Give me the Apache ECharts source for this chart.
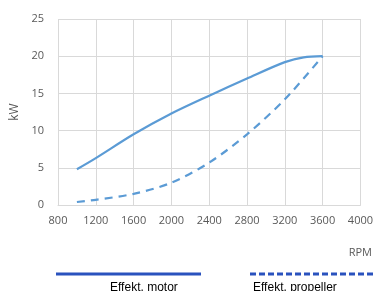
<!DOCTYPE html>
<html>
<head>
<meta charset="utf-8">
<script src="https://cdn.jsdelivr.net/npm/echarts@6/dist/echarts.min.js"></script>
<style>
  html, body { margin: 0; padding: 0; background: #fff; }
  #chart { width: 376px; height: 291px; }
</style>
</head>
<body>
<div id="chart"></div>
<script>
// RPM points
const rpmMotor = [1000, 1200, 1600, 2000, 2400, 2800, 3200, 3400, 3600];
const kwMotor = [4.8, 6.3, 9.5, 12.3, 14.7, 17.0, 19.2, 19.85, 20];
const rpmProp = [1000, 1200, 1600, 2000, 2400, 2800, 3200, 3600];
const kwProp = [0.4, 0.7, 1.5, 3.0, 5.7, 9.5, 14.2, 20];
const legendNames = ['Effekt. motor', 'Effekt. propeller'];

const lineColor = '#5b9bd5';
const gridColor = '#d9d9d9';
const labelColor = '#595959';
const font = 'Open Sans';

const chart = echarts.init(document.getElementById('chart'));

const option = {
  animation: false,
  grid: { left: 58, right: 15, top: 19, bottom: 86 },
  xAxis: {
    type: 'value',
    min: 800,
    max: 4000,
    interval: 400,
    axisLine: { show: true, lineStyle: { color: gridColor } },
    axisTick: { show: false },
    splitLine: { show: true, lineStyle: { color: gridColor } },
    axisLabel: { color: labelColor, fontFamily: font, fontSize: 11, margin: 10,
      formatter: v => String(v) }
  },
  yAxis: {
    type: 'value',
    min: 0,
    max: 25,
    interval: 5,
    name: 'kW',
    nameLocation: 'middle',
    nameGap: 36,
    nameTextStyle: { color: labelColor, fontFamily: font, fontSize: 12 },
    axisLine: { show: false },
    axisTick: { show: false },
    splitLine: { lineStyle: { color: gridColor } },
    axisLabel: { color: labelColor, fontFamily: font, fontSize: 11, margin: 14 }
  },
  series: [
    {
      name: legendNames[0],
      type: 'line',
      smooth: 0.3,
      showSymbol: false,
      data: rpmMotor.map((r, i) => [r, kwMotor[i]]),
      lineStyle: { color: lineColor, width: 2.2 }
    },
    {
      name: legendNames[1],
      type: 'line',
      smooth: 0.3,
      showSymbol: false,
      data: rpmProp.map((r, i) => [r, kwProp[i]]),
      lineStyle: { color: lineColor, width: 2.2, type: [8, 6] }
    }
  ],
  graphic: [
    // x axis title
    { type: 'text', right: 4, top: 247,
      style: { text: 'RPM', fill: labelColor, font: '11px "Open Sans"' } },
    // legend lines + names (cut at the bottom edge like the source)
    { type: 'line', shape: { x1: 56, y1: 274, x2: 201, y2: 274 },
      style: { stroke: '#2a52be', lineWidth: 3 } },
    { type: 'line', shape: { x1: 250, y1: 274, x2: 376, y2: 274 },
      style: { stroke: '#2a52be', lineWidth: 3, lineDash: [6, 3] } },
    { type: 'text', left: 110, top: 282,
      style: { text: legendNames[0], fill: '#000', font: '12px "Liberation Sans"' } },
    { type: 'text', left: 253, top: 282,
      style: { text: legendNames[1], fill: '#000', font: '12px "Liberation Sans"' } }
  ]
};

chart.setOption(option);
</script>
</body>
</html>
